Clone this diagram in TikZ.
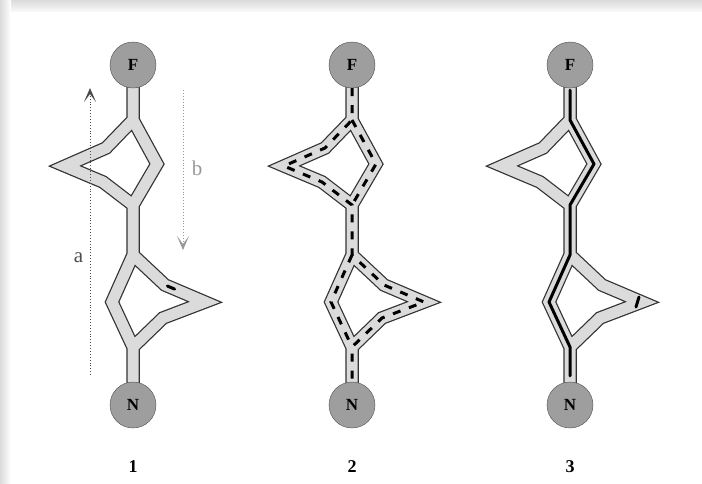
\documentclass[tikz,border=0pt]{standalone}
\usepackage{fontspec}
\setmainfont{Liberation Serif}
\usetikzlibrary{arrows.meta, backgrounds, calc}

\begin{document}
\begin{tikzpicture}[x=1pt, y=-1pt,
  site/.style={circle, draw=black!70, fill=black!38, minimum size=46pt,
               inner sep=0pt, font=\bfseries\fontsize{17}{17}\selectfont},
  tube/.style={line width=13.5pt, draw=black!80, line join=miter, line cap=round},
  tubefill/.style={line width=11pt, draw=black!14, line join=miter, line cap=round},
  walk/.style={line width=3pt, draw=black, dash pattern=on 8pt off 9pt},
  route/.style={line width=3pt, draw=black, line cap=round, line join=round},
  dir/.style={dotted, line width=0.9pt, -{Stealth[length=14pt, width=12pt, inset=8pt]}},
  lbl/.style={font=\fontsize{21}{21}\selectfont},
  num/.style={font=\bfseries\fontsize{18}{18}\selectfont},
]
\useasboundingbox (0,0) rectangle (702,483);

% ---- frame ----
\begin{scope}[on background layer]
  \shade[top color=black!14, bottom color=white] (0,0) rectangle (702,14);
  \shade[left color=black!14, right color=white] (0,0) rectangle (11,483);
  \fill[white] (10,12) rectangle (702,483);
\end{scope}

% ---- sites and junctions ----
\foreach \i/\x in {1/133, 2/352, 3/570} {
  \node[site] (F\i) at (\x,65)  {F};
  \node[site] (N\i) at (\x,405) {N};
  \node[num]  (L\i) at (\x,467) {\i};
  % upper loop
  \coordinate (utop\i)  at (\x,120);
  \coordinate (uarm\i)  at (\x-27,148);
  \coordinate (utip\i)  at (\x-68,166);
  \coordinate (uleg\i)  at (\x-30,182);
  \coordinate (ubot\i)  at (\x,205);
  \coordinate (uside\i) at (\x+24,164);
  % lower loop
  \coordinate (ltop\i)  at (\x,255);
  \coordinate (larm\i)  at (\x+32,285);
  \coordinate (ltip\i)  at (\x+72,302);
  \coordinate (lleg\i)  at (\x+30,318);
  \coordinate (lbot\i)  at (\x,347);
  \coordinate (lside\i) at (\x-21,302);
}

% ---- tubes ----
\begin{scope}[on background layer]
  \foreach \i in {1,2,3} {
    \foreach \s in {tube, tubefill}
      \draw[\s] (F\i.center) -- (utop\i) -- (uarm\i) -- (utip\i) -- (uleg\i) -- (ubot\i)
                -- (ltop\i) -- (larm\i) -- (ltip\i) -- (lleg\i) -- (lbot\i) -- (N\i.center)
                (utop\i) -- (uside\i) -- (ubot\i)
                (ltop\i) -- (lside\i) -- (lbot\i);
  }
\end{scope}

% ---- 1: a single walker ----
\draw[route] ($(larm1)!.06!(ltip1)$) -- ($(larm1)!.24!(ltip1)$);

% ---- 2: all paths ----
\draw[walk] (F2.south) -- (utop2) -- (uarm2) -- (utip2) -- (uleg2) -- (ubot2)
            -- (ltop2) -- (larm2) -- (ltip2) -- (lleg2) -- (lbot2) -- (N2.north)
            (utop2) -- (uside2) -- (ubot2)
            (ltop2) -- (lside2) -- (lbot2);

% ---- 3: shortest path ----
\draw[route, shorten <=2pt, shorten >=6pt] (F3.south) -- (utop3) -- (uside3) -- (ubot3)
             -- (ltop3) -- (lside3) -- (lbot3) -- (N3.north);
\draw[route] ([shift={(-3,-5)}]ltip3) -- ([shift={(-6,5)}]ltip3);

% ---- directions ----
\coordinate (a0) at (90,375);
\coordinate (a1) at (90,88);
\coordinate (b0) at (183,90);
\coordinate (b1) at (183,250);
\draw[dir, black!70] (a0) -- (a1) node[lbl, pos=.41, left=3pt] (alabel) {a};
\draw[dir, black!40] (b0) -- (b1) node[lbl, pos=.49, right=5pt] (blabel) {b};

\end{tikzpicture}
\end{document}
